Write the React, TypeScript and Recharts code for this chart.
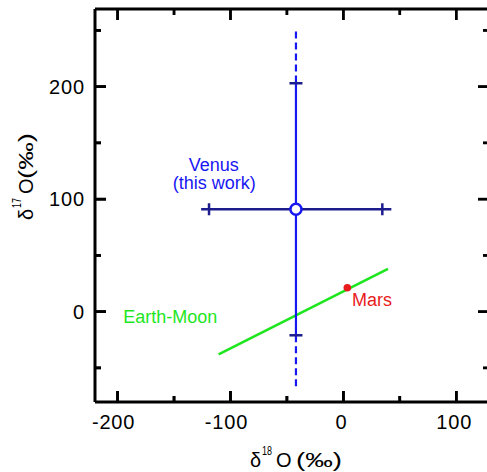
import React from 'react';
import { ScatterChart, Scatter, XAxis, YAxis, Customized } from 'recharts';

// ---- axis ticks / domains ----
const xMajorTicks = [-200, -100, 0, 100];
const xMinorTicks = [-150, -50, 50];
const yMajorTicks = [0, 100, 200];
const yMinorTicks = [-50, 50, 150, 250];
const xAllTicks = [-200, -150, -100, -50, 0, 50, 100];
const yAllTicks = [-50, 0, 50, 100, 150, 200, 250];
const xDomain: [number, number] = [-220, 129];
const yDomain: [number, number] = [-80.3, 269];

// ---- data (δ18O, δ17O in ‰) ----
const venusCenter = [{ x: -42, y: 91 }];
const venusYSolid = [{ x: -42, y: -21 }, { x: -42, y: 203 }];
const venusYDashTop = [{ x: -42, y: 249 }, { x: -42, y: 203 }];
const venusYDashBottom = [{ x: -42, y: -21 }, { x: -42, y: -67 }];
const venusYCaps = [{ x: -42, y: 203 }, { x: -42, y: -21 }];
const venusXLine = [{ x: -126, y: 91 }, { x: 42.5, y: 91 }];
const venusXCaps = [{ x: -119, y: 91 }, { x: 34.5, y: 91 }];
const earthMoonLine = [{ x: -110.5, y: -38 }, { x: 39.5, y: 38 }];
const marsPoint = [{ x: 3.5, y: 21.3 }];

// annotation anchors (data units)
const venusLabels = [
  { x: -114.8, y: 125, label: 'Venus' },
  { x: -114.3, y: 108.6, label: '(this work)' },
];
const earthMoonLabel = [{ x: -195, y: -10.3, label: 'Earth-Moon' }];
const marsLabel = [{ x: 7.6, y: 5.3, label: 'Mars' }];

const FONT = '"Liberation Sans", Arial, Helvetica, sans-serif';
const BLUE = '#1717f2';
const NAVY = '#1c1c8c';
const GREEN = '#1ee61e';
const RED = '#e81c1c';
const INK = '#000';
const MAJOR = 11;
const MINOR = 6;
const TW = 2.5;

// chart geometry (style)
const CHART_W = 500;
const CHART_H = 472;
const MARGIN = { top: 8, right: 10, bottom: 0, left: 0 };
const Y_AXIS_W = 95;
const X_AXIS_H = 70;
const PLOT_W = CHART_W - MARGIN.left - MARGIN.right - Y_AXIS_W - 1;
const PLOT_H = CHART_H - MARGIN.top - MARGIN.bottom - X_AXIS_H - 1;

const isMajor = (v: number) => Math.abs(v % 100) < 1e-9;
const tickLen = (v: number) => (isMajor(v) ? MAJOR : MINOR);
const xPerPx = (xDomain[1] - xDomain[0]) / PLOT_W;
const yPerPx = (yDomain[1] - yDomain[0]) / PLOT_H;

// inward frame tick segments built from tick lists + domains
const tickSegments = [
  ...xAllTicks.map((v) => [{ x: v, y: yDomain[0] }, { x: v, y: yDomain[0] + tickLen(v) * yPerPx }]),
  ...xAllTicks.map((v) => [{ x: v, y: yDomain[1] }, { x: v, y: yDomain[1] - tickLen(v) * yPerPx }]),
  ...yAllTicks.map((v) => [{ x: xDomain[0], y: v }, { x: xDomain[0] + tickLen(v) * xPerPx, y: v }]),
  ...yAllTicks.map((v) => [{ x: xDomain[1], y: v }, { x: xDomain[1] - tickLen(v) * xPerPx, y: v }]),
];

// frame tick anchor points
const bottomMajor = xMajorTicks.map((v) => ({ x: v, y: yDomain[0] }));
const bottomMinor = xMinorTicks.map((v) => ({ x: v, y: yDomain[0] }));
const topMajor = xMajorTicks.map((v) => ({ x: v, y: yDomain[1] }));
const topMinor = xMinorTicks.map((v) => ({ x: v, y: yDomain[1] }));
const leftMajor = yMajorTicks.map((v) => ({ x: xDomain[0], y: v }));
const leftMinor = yMinorTicks.map((v) => ({ x: xDomain[0], y: v }));
const rightMajor = yMajorTicks.map((v) => ({ x: xDomain[1], y: v }));
const rightMinor = yMinorTicks.map((v) => ({ x: xDomain[1], y: v }));

const BottomTick = (props: any) => {
  const { x, y, payload } = props;
  const v = payload.value as number;
  return (
    <g>
      <line x1={x} x2={x} y1={y} y2={y - tickLen(v)} stroke={INK} strokeWidth={TW} />
      {isMajor(v) && (
        <text x={x - 2 - (v < 0 ? 2 : 0)} y={y + 27} textAnchor="middle" fontSize={20} fontFamily={FONT} letterSpacing={0.8} fill={INK}>
          {v}
        </text>
      )}
    </g>
  );
};
const LeftTick = (props: any) => {
  const { x, y, payload } = props;
  const v = payload.value as number;
  return (
    <g>
      <line x1={x} x2={x + tickLen(v)} y1={y} y2={y} stroke={INK} strokeWidth={TW} />
      {isMajor(v) && (
        <text x={x - 10} y={y + 7} textAnchor="end" fontSize={20} fontFamily={FONT} letterSpacing={0.9} fill={INK}>
          {v}
        </text>
      )}
    </g>
  );
};
const TopTick = (props: any) => {
  const { x, y, payload } = props;
  return <line x1={x} x2={x} y1={y} y2={y + tickLen(payload.value)} stroke={INK} strokeWidth={TW} />;
};
const RightTick = (props: any) => {
  const { x, y, payload } = props;
  return <line x1={x} x2={x - tickLen(payload.value)} y1={y} y2={y} stroke={INK} strokeWidth={TW} />;
};

const BottomMajorMark = (p: any) => <line x1={p.cx} y1={p.cy} x2={p.cx} y2={p.cy - MAJOR} stroke={INK} strokeWidth={TW} />;
const BottomMinorMark = (p: any) => <line x1={p.cx} y1={p.cy} x2={p.cx} y2={p.cy - MINOR} stroke={INK} strokeWidth={TW} />;
const TopMajorMark = (p: any) => <line x1={p.cx} y1={p.cy} x2={p.cx} y2={p.cy + MAJOR} stroke={INK} strokeWidth={TW} />;
const TopMinorMark = (p: any) => <line x1={p.cx} y1={p.cy} x2={p.cx} y2={p.cy + MINOR} stroke={INK} strokeWidth={TW} />;
const LeftMajorMark = (p: any) => <line x1={p.cx} y1={p.cy} x2={p.cx + MAJOR} y2={p.cy} stroke={INK} strokeWidth={TW} />;
const LeftMinorMark = (p: any) => <line x1={p.cx} y1={p.cy} x2={p.cx + MINOR} y2={p.cy} stroke={INK} strokeWidth={TW} />;
const RightMajorMark = (p: any) => <line x1={p.cx} y1={p.cy} x2={p.cx - MAJOR} y2={p.cy} stroke={INK} strokeWidth={TW} />;
const RightMinorMark = (p: any) => <line x1={p.cx} y1={p.cy} x2={p.cx - MINOR} y2={p.cy} stroke={INK} strokeWidth={TW} />;

const Empty = () => <g />;
const VCap = (p: any) => <line x1={p.cx - 6.5} x2={p.cx + 6.5} y1={p.cy} y2={p.cy} stroke={NAVY} strokeWidth={2.5} />;
const HCap = (p: any) => <line x1={p.cx} x2={p.cx} y1={p.cy - 6} y2={p.cy + 6} stroke={NAVY} strokeWidth={2.5} />;
const OpenCircle = (p: any) => <circle cx={p.cx} cy={p.cy} r={5.5} fill="#fff" stroke={BLUE} strokeWidth={2.5} />;
const RedDot = (p: any) => <circle cx={p.cx} cy={p.cy} r={3.8} fill={RED} />;
const VenusLabel = (p: any) => (
  <text x={p.cx} y={p.cy} textAnchor="middle" fontSize={18} fontFamily={FONT} fill={BLUE}>{p.payload?.label}</text>
);
const EarthMoonText = (p: any) => (
  <text x={p.cx} y={p.cy} textAnchor="start" fontSize={18} fontFamily={FONT} fill={GREEN}>{p.payload?.label}</text>
);
const MarsText = (p: any) => (
  <text x={p.cx} y={p.cy} textAnchor="start" fontSize={18} fontFamily={FONT} fill={RED}>{p.payload?.label}</text>
);

const AxisTitles = () => (
  <g fontFamily={FONT} fill={INK}>
    <text y={467} fontSize={20}>
      <tspan x={250}>δ</tspan>
      <tspan x={262} y={455} fontSize={13} textLength={10} lengthAdjust="spacingAndGlyphs">18</tspan>
      <tspan x={276} y={467}>O</tspan>
      <tspan x={296} y={467} textLength={46} lengthAdjust="spacingAndGlyphs">(‰)</tspan>
    </text>
    <text transform="translate(33,220) rotate(-90)" fontSize={20}>
      <tspan x={0} y={0}>δ</tspan>
      <tspan x={12} y={-12} fontSize={13} textLength={10} lengthAdjust="spacingAndGlyphs">17</tspan>
      <tspan x={26} y={0}>O</tspan>
      <tspan x={41} y={0} textLength={46} lengthAdjust="spacingAndGlyphs">(‰)</tspan>
    </text>
  </g>
);

const axisLine = { stroke: INK, strokeWidth: 3 };

export default function App() {
  return (
    <div style={{ position: 'fixed', left: 0, top: 0, width: 487, height: 472, overflow: 'hidden', background: '#fff' }}>
      <ScatterChart width={CHART_W} height={CHART_H} margin={MARGIN}>
        <XAxis type="number" dataKey="x" domain={xDomain} ticks={xAllTicks} interval={0} height={X_AXIS_H} tickSize={0} tickMargin={0} tickLine={false} axisLine={axisLine} tick={BottomTick} />
        <XAxis xAxisId="top" orientation="top" type="number" dataKey="x" domain={xDomain} ticks={xAllTicks} interval={0} height={1} tickSize={0} tickMargin={0} tickLine={false} axisLine={axisLine} tick={TopTick} />
        <YAxis type="number" dataKey="y" domain={yDomain} ticks={yAllTicks} interval={0} width={Y_AXIS_W} tickSize={0} tickMargin={0} tickLine={false} axisLine={axisLine} tick={LeftTick} />
        <YAxis yAxisId="right" orientation="right" type="number" dataKey="y" domain={yDomain} ticks={yAllTicks} interval={0} width={1} tickSize={0} tickMargin={0} tickLine={false} axisLine={axisLine} tick={RightTick} />
        {tickSegments.map((seg, i) => (
          <Scatter key={`tick-${i}`} data={seg} line={{ stroke: INK, strokeWidth: TW }} shape={Empty} isAnimationActive={false} />
        ))}
        <Scatter data={earthMoonLine} line={{ stroke: GREEN, strokeWidth: 2.6 }} shape={Empty} isAnimationActive={false} />
        <Scatter data={venusXLine} line={{ stroke: NAVY, strokeWidth: 2.5 }} shape={Empty} isAnimationActive={false} />
        <Scatter data={venusXCaps} shape={HCap} isAnimationActive={false} />
        <Scatter data={venusYSolid} line={{ stroke: BLUE, strokeWidth: 2.2 }} shape={Empty} isAnimationActive={false} />
        <Scatter data={venusYDashTop} line={{ stroke: BLUE, strokeWidth: 2.2, strokeDasharray: '7 4' }} shape={Empty} isAnimationActive={false} />
        <Scatter data={venusYDashBottom} line={{ stroke: BLUE, strokeWidth: 2.2, strokeDasharray: '7 4' }} shape={Empty} isAnimationActive={false} />
        <Scatter data={venusYCaps} shape={VCap} isAnimationActive={false} />
        <Scatter data={venusCenter} shape={OpenCircle} isAnimationActive={false} />
        <Scatter data={marsPoint} shape={RedDot} isAnimationActive={false} />
        <Scatter data={venusLabels} shape={VenusLabel} isAnimationActive={false} />
        <Scatter data={earthMoonLabel} shape={EarthMoonText} isAnimationActive={false} />
        <Scatter data={marsLabel} shape={MarsText} isAnimationActive={false} />
        <Scatter data={bottomMajor} shape={BottomMajorMark} isAnimationActive={false} />
        <Scatter data={bottomMinor} shape={BottomMinorMark} isAnimationActive={false} />
        <Scatter data={topMajor} shape={TopMajorMark} isAnimationActive={false} />
        <Scatter data={topMinor} shape={TopMinorMark} isAnimationActive={false} />
        <Scatter data={leftMajor} shape={LeftMajorMark} isAnimationActive={false} />
        <Scatter data={leftMinor} shape={LeftMinorMark} isAnimationActive={false} />
        <Scatter data={rightMajor} shape={RightMajorMark} isAnimationActive={false} />
        <Scatter data={rightMinor} shape={RightMinorMark} isAnimationActive={false} />
        <Customized component={<AxisTitles />} />
      </ScatterChart>
    </div>
  );
}
